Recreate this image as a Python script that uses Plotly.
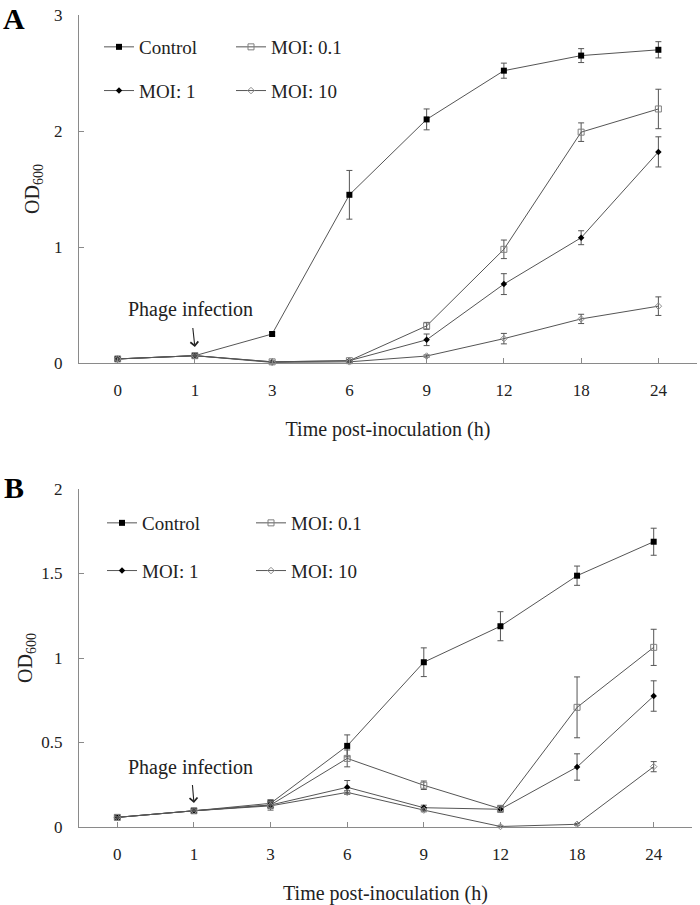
import plotly.graph_objects as go

# ---------------- data ----------------
time_labels = ["0", "1", "3", "6", "9", "12", "18", "24"]
x_idx = list(range(len(time_labels)))

# Panel A
a_control = [0.035, 0.063, 0.25, 1.45, 2.10, 2.52, 2.65, 2.70]
a_control_err = [0.01, 0.01, 0.015, 0.21, 0.09, 0.065, 0.06, 0.07]
a_moi01 = [0.035, 0.063, 0.01, 0.02, 0.32, 0.98, 1.99, 2.19]
a_moi01_err = [0.01, 0.01, 0.005, 0.01, 0.03, 0.08, 0.08, 0.17]
a_moi1 = [0.035, 0.063, 0.01, 0.02, 0.20, 0.68, 1.08, 1.82]
a_moi1_err = [0.01, 0.01, 0.005, 0.01, 0.05, 0.09, 0.06, 0.13]
a_moi10 = [0.035, 0.063, 0.005, 0.01, 0.06, 0.21, 0.38, 0.49]
a_moi10_err = [0.01, 0.01, 0.005, 0.005, 0.01, 0.045, 0.04, 0.08]

# Panel B
b_control = [0.057, 0.096, 0.14, 0.48, 0.975, 1.188, 1.487, 1.688]
b_control_err = [0.005, 0.005, 0.02, 0.065, 0.085, 0.086, 0.057, 0.08]
b_moi01 = [0.057, 0.096, 0.13, 0.406, 0.247, 0.108, 0.708, 1.063]
b_moi01_err = [0.005, 0.005, 0.03, 0.05, 0.025, 0.02, 0.18, 0.107]
b_moi1 = [0.057, 0.096, 0.13, 0.235, 0.114, 0.105, 0.355, 0.775]
b_moi1_err = [0.005, 0.005, 0.02, 0.04, 0.015, 0.015, 0.078, 0.09]
b_moi10 = [0.057, 0.096, 0.125, 0.205, 0.10, 0.003, 0.016, 0.357]
b_moi10_err = [0.005, 0.005, 0.01, 0.01, 0.01, 0.003, 0.005, 0.03]

a_yticks = [0, 1, 2, 3]
b_yticks = [0, 0.5, 1, 1.5, 2]

# ---------------- styling ----------------
W, H = 700, 905
FONT = "Liberation Serif"
LINE = "#555555"
AXIS = "#8a8a8a"
ERR = "#555555"

styles = {
    "Control": dict(symbol="square", color="#000000", line=dict(width=0), size=6),
    "MOI: 0.1": dict(symbol="square-open", color="#7f7f7f", line=dict(width=1), size=6),
    "MOI: 1": dict(symbol="diamond", color="#000000", line=dict(width=0), size=5),
    "MOI: 10": dict(symbol="diamond-open", color="#8c8c8c", line=dict(width=1), size=5),
}


def px_x(p):
    return p / W


def px_y(p):
    return 1 - p / H


fig = go.Figure()


def add(name, y, err, xa, ya, legend):
    st = styles[name]
    fig.add_trace(go.Scatter(
        x=x_idx, y=y, name=name, mode="lines+markers",
        xaxis=xa, yaxis=ya, legend=legend, legendgroup=legend + name,
        line=dict(color=LINE, width=1),
        marker=st,
        error_y=dict(type="data", array=err, visible=True, color=ERR, thickness=1, width=3),
        cliponaxis=False,
    ))


# Panel A (legend col1: Control, MOI:1 ; col2: MOI 0.1, MOI 10)
add("Control", a_control, a_control_err, "x", "y", "legend")
add("MOI: 1", a_moi1, a_moi1_err, "x", "y", "legend")
add("MOI: 0.1", a_moi01, a_moi01_err, "x", "y", "legend2")
add("MOI: 10", a_moi10, a_moi10_err, "x", "y", "legend2")
# Panel B
add("Control", b_control, b_control_err, "x2", "y2", "legend3")
add("MOI: 1", b_moi1, b_moi1_err, "x2", "y2", "legend3")
add("MOI: 0.1", b_moi01, b_moi01_err, "x2", "y2", "legend4")
add("MOI: 10", b_moi10, b_moi10_err, "x2", "y2", "legend4")

xcommon = dict(
    tickvals=x_idx, ticktext=time_labels,
    range=[-0.5, 7.5], showline=True, linecolor=AXIS, linewidth=1,
    ticks="inside", ticklen=5, tickcolor=AXIS, showgrid=False, zeroline=False,
    minor=dict(tickvals=[7.5], ticks="inside", ticklen=5, tickcolor=AXIS, showgrid=False),
    tickfont=dict(family=FONT, size=17, color="#222"),
    ticklabelstandoff=12, automargin=False,
    title=dict(text="Time post-inoculation (h)", font=dict(family=FONT, size=20, color="#222"), standoff=22),
)
ycommon = dict(
    showline=True, linecolor=AXIS, linewidth=1, ticks="inside", ticklen=5,
    tickcolor=AXIS, showgrid=False, zeroline=False,
    tickfont=dict(family=FONT, size=17, color="#222"),
    ticklabelstandoff=12, automargin=False,
)
ytitle_font = dict(family=FONT, size=20, color="#222")

legfont = dict(family=FONT, size=19, color="#222")


def leg(xp, yp, gap):
    return dict(x=px_x(xp), y=px_y(yp), xanchor="left", yanchor="top",
                orientation="v", font=legfont, bgcolor="rgba(0,0,0,0)",
                tracegroupgap=gap, itemwidth=30)


fig.update_layout(
    width=W, height=H,
    margin=dict(l=0, r=0, t=0, b=0, autoexpand=False),
    plot_bgcolor="white", paper_bgcolor="white",
    showlegend=True,
    xaxis=dict(domain=[px_x(79), px_x(697)], anchor="y", **xcommon),
    yaxis=dict(domain=[px_y(363), px_y(15)], anchor="x", range=[0, 3], tickvals=a_yticks,
               title=dict(text="OD<sub>600</sub>", font=ytitle_font, standoff=9), **ycommon),
    xaxis2=dict(domain=[px_x(79), px_x(692)], anchor="y2", **xcommon),
    yaxis2=dict(domain=[px_y(827), px_y(489)], anchor="x2", range=[0, 2], tickvals=b_yticks,
                title=dict(text="OD<sub>600</sub>", font=ytitle_font, standoff=3), **ycommon),
    legend=leg(99, 28, 16),
    legend2=leg(231, 28, 16),
    legend3=leg(102, 504, 20),
    legend4=leg(251, 504, 20),
)

ann_font = dict(family=FONT, size=20, color="#222")
annotations = [
    # panel letters
    dict(text="<b>A</b>", x=px_x(14), y=px_y(18), xref="paper", yref="paper", showarrow=False,
         xanchor="center", yanchor="middle", font=dict(family=FONT, size=30, color="#000")),
    dict(text="<b>B</b>", x=px_x(14), y=px_y(487), xref="paper", yref="paper", showarrow=False,
         xanchor="center", yanchor="middle", font=dict(family=FONT, size=30, color="#000")),
    # Phage infection labels with arrows
    dict(text="Phage infection", x=1, y=0.138, xref="x", yref="y", ax=-4, ay=-37,
         showarrow=True, startstandoff=5, arrowhead=4, arrowsize=1.4, arrowwidth=1.1,
         arrowcolor="#222", font=ann_font),
    dict(text="Phage infection", x=1, y=0.142, xref="x2", yref="y2", ax=-3, ay=-36,
         showarrow=True, startstandoff=5, arrowhead=4, arrowsize=1.4, arrowwidth=1.1,
         arrowcolor="#222", font=ann_font),
]
fig.update_layout(annotations=annotations)

# remove the default 8px page margin so the figure sits at the window's corner
fig.write_html("out.html", config={"displayModeBar": False},
               post_script="document.body.style.margin='0px';")
